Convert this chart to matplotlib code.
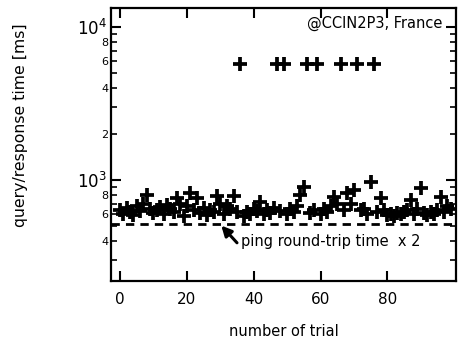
import matplotlib
matplotlib.use("Agg")
import matplotlib.pyplot as plt
from matplotlib.ticker import FixedLocator, FixedFormatter

trials = list(range(100))
response_ms = [
    640, 600, 660, 620, 590, 680, 630, 700, 800, 650,
    610, 640, 670, 600, 690, 650, 620, 760, 700, 580,
    680, 820, 640, 760, 610, 660, 590, 640, 620, 790,
    700, 600, 680, 650, 790, 620, 5700, 580, 620, 600,
    650, 630, 720, 600, 640, 610, 660, 5700, 630, 5700,
    600, 650, 620, 680, 800, 900, 5700, 610, 640, 5700,
    600, 650, 620, 680, 780, 700, 5700, 640, 820, 700,
    860, 5700, 640, 650, 600, 970, 5700, 620, 760, 640,
    590, 600, 580, 610, 600, 620, 640, 740, 600, 650,
    890, 610, 590, 620, 600, 640, 780, 620, 680, 650,
]
ping_x2_ms = 520

x_ticks = [0, 20, 40, 60, 80]
y_major = [1000, 10000]
y_major_labels = [r"$10^3$", r"$10^4$"]
y_minor = [200, 300, 400, 500, 600, 700, 800, 900,
           2000, 3000, 4000, 5000, 6000, 7000, 8000, 9000]
y_minor_labels = ["", "", "4", "", "6", "", "8", "",
                  "2", "", "4", "", "6", "", "8", ""]

fig = plt.figure(figsize=(4.59, 3.43), dpi=100)
ax = fig.add_axes([0.242, 0.181, 0.751, 0.796])

ax.plot(trials, response_ms, linestyle="none", marker="+", color="black",
        markersize=10, markeredgewidth=2.7)
ax.axhline(ping_x2_ms, color="black", linestyle=(0, (3, 2.2)), linewidth=2.0)

ax.set_yscale("log")
ax.set_xlim(-2.7, 100.5)
ax.set_ylim(220, 13300)

ax.xaxis.set_major_locator(FixedLocator(x_ticks))
ax.yaxis.set_major_locator(FixedLocator(y_major))
ax.yaxis.set_major_formatter(FixedFormatter(y_major_labels))
ax.yaxis.set_minor_locator(FixedLocator(y_minor))
ax.yaxis.set_minor_formatter(FixedFormatter(y_minor_labels))

ax.tick_params(axis="both", which="major", direction="in", length=7, width=1.5,
               top=True, right=True, labelsize=11)
ax.tick_params(axis="y", which="minor", direction="in", length=4, width=1.2,
               right=True, labelsize=8)
ax.tick_params(axis="x", which="major", pad=8)
ax.tick_params(axis="y", which="major", labelsize=12, pad=3)
ax.tick_params(axis="y", which="minor", pad=2)
for sp in ax.spines.values():
    sp.set_linewidth(1.6)

ax.set_xlabel("number of trial", fontsize=10.5, labelpad=12)
ax.set_ylabel("query/response time [ms]", fontsize=11.3)
ax.yaxis.set_label_coords(-0.24, 0.571)

ax.text(96.5, 10600, "@CCIN2P3, France", ha="right", va="center", fontsize=10.5)
ax.annotate("", xy=(30.3, 505), xytext=(35.0, 390),
            arrowprops=dict(arrowstyle="-|>", color="black", lw=2.2,
                            mutation_scale=15, shrinkA=0, shrinkB=0))
ax.text(36.3, 395, "ping round-trip time  x 2", ha="left", va="center",
        fontsize=10.5)

fig.savefig("out.png", dpi=100)
